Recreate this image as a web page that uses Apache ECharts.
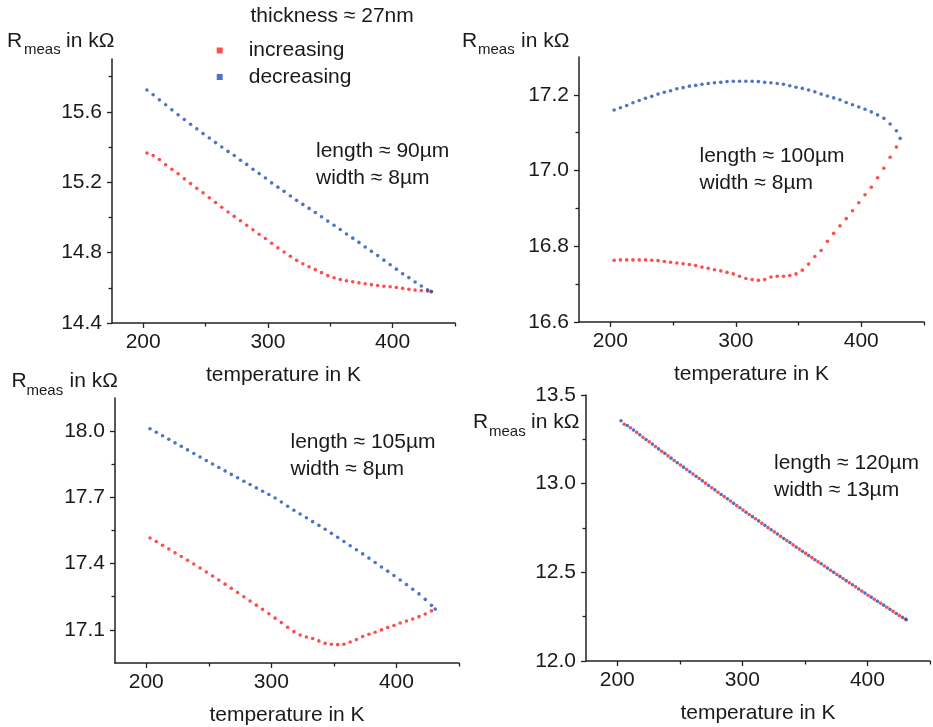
<!DOCTYPE html>
<html>
<head>
<meta charset="utf-8">
<script src="https://cdn.jsdelivr.net/npm/echarts@6/dist/echarts.min.js"></script>
<style>
html,body{margin:0;padding:0;background:#fff;}
#chart{width:933px;height:727px;}
</style>
</head>
<body>
<div id="chart"></div>
<script>
// ---------------- data ----------------
const temps = [203,208,213,218,223,228,233,238,243,248,253,258,263,268,273,278,283,288,293,298,303,308,313,318,323,328,333,338,343,348,353,358,363,368,373,378,383,388,393,398,403,408,413,418,423,428,431];
const tempsP4Inc = [205.5,210.5,215.5,220.5,225.5,230.5,235.5,240.5,245.5,250.5,255.5,260.5,265.5,270.5,275.5,280.5,285.5,290.5,295.5,300.5,305.5,310.5,315.5,320.5,325.5,330.5,335.5,340.5,345.5,350.5,355.5,360.5,365.5,370.5,375.5,380.5,385.5,390.5,395.5,400.5,405.5,410.5,415.5,420.5,425.5,430.5];

const p1Inc = [15.366,15.352,15.329,15.299,15.274,15.248,15.219,15.192,15.166,15.140,15.112,15.085,15.058,15.031,15.006,14.981,14.955,14.930,14.904,14.880,14.853,14.827,14.803,14.779,14.756,14.737,14.719,14.703,14.686,14.669,14.657,14.647,14.640,14.634,14.628,14.623,14.618,14.613,14.609,14.606,14.602,14.597,14.592,14.587,14.584,14.582,14.580];
const p1Dec = [15.724,15.697,15.668,15.640,15.611,15.583,15.556,15.529,15.503,15.476,15.451,15.425,15.400,15.375,15.352,15.325,15.301,15.274,15.249,15.224,15.196,15.172,15.148,15.122,15.097,15.074,15.051,15.028,15.004,14.979,14.955,14.931,14.906,14.882,14.858,14.832,14.807,14.783,14.757,14.731,14.706,14.680,14.658,14.633,14.610,14.588,14.577];

const p2Inc = [16.763,16.764,16.764,16.764,16.764,16.764,16.763,16.762,16.760,16.758,16.756,16.754,16.752,16.749,16.745,16.742,16.738,16.735,16.731,16.727,16.721,16.715,16.712,16.710,16.712,16.719,16.721,16.721,16.723,16.727,16.737,16.753,16.773,16.789,16.813,16.834,16.854,16.873,16.894,16.915,16.936,16.956,16.981,17.006,17.035,17.062,null];
const p2Dec = [17.160,17.166,17.172,17.179,17.185,17.191,17.196,17.202,17.207,17.211,17.216,17.219,17.223,17.225,17.228,17.230,17.232,17.233,17.235,17.236,17.236,17.236,17.236,17.235,17.233,17.232,17.230,17.228,17.224,17.220,17.217,17.213,17.208,17.202,17.197,17.192,17.187,17.180,17.174,17.168,17.162,17.155,17.147,17.138,17.123,17.105,17.085];

const p3Inc = [17.516,17.500,17.483,17.466,17.449,17.432,17.415,17.398,17.380,17.362,17.344,17.326,17.307,17.288,17.269,17.250,17.231,17.212,17.193,17.173,17.153,17.133,17.112,17.092,17.077,17.068,17.061,17.050,17.039,17.035,17.033,17.035,17.045,17.056,17.070,17.080,17.089,17.100,17.111,17.120,17.131,17.140,17.149,17.160,17.172,17.186,null];
const p3Dec = [18.011,17.995,17.979,17.963,17.947,17.931,17.915,17.899,17.883,17.867,17.851,17.835,17.820,17.804,17.789,17.773,17.758,17.743,17.728,17.713,17.697,17.679,17.660,17.642,17.625,17.608,17.590,17.573,17.556,17.537,17.519,17.500,17.481,17.463,17.444,17.425,17.405,17.385,17.366,17.346,17.326,17.305,17.284,17.263,17.238,17.211,17.194];

const p4Inc = [13.335,13.315,13.289,13.262,13.236,13.209,13.183,13.157,13.131,13.105,13.080,13.054,13.029,13.003,12.977,12.952,12.927,12.902,12.876,12.851,12.826,12.802,12.777,12.752,12.728,12.703,12.679,12.655,12.631,12.607,12.583,12.559,12.536,12.512,12.488,12.465,12.441,12.418,12.394,12.371,12.348,12.326,12.303,12.280,12.257,12.236];
const p4Dec = [13.355,13.328,13.302,13.276,13.249,13.223,13.196,13.171,13.144,13.118,13.093,13.067,13.042,13.016,12.990,12.965,12.939,12.915,12.889,12.864,12.839,12.814,12.790,12.765,12.740,12.716,12.691,12.668,12.643,12.619,12.595,12.571,12.548,12.524,12.500,12.477,12.453,12.430,12.406,12.383,12.360,12.337,12.315,12.292,12.268,12.246,12.233];

const xMajorTicks = [200, 300, 400];
const xMinorTicks = [250, 350, 450];
const p1YMajor = [14.4, 14.8, 15.2, 15.6];
const p1YMinor = [14.6, 15.0, 15.4, 15.8];
const p2YMajor = [16.6, 16.8, 17.0, 17.2];
const p2YMinor = [16.7, 16.9, 17.1];
const p3YMajor = [17.1, 17.4, 17.7, 18.0];
const p3YMinor = [17.25, 17.55, 17.85];
const p4YMajor = [12.0, 12.5, 13.0, 13.5];
const p4YMinor = [12.25, 12.75, 13.25];

const seriesNames = ['increasing', 'decreasing'];
const sampleLabels = [
  ['length \u2248 90\u00b5m', 'width \u2248 8\u00b5m'],
  ['length \u2248 100\u00b5m', 'width \u2248 8\u00b5m'],
  ['length \u2248 105\u00b5m', 'width \u2248 8\u00b5m'],
  ['length \u2248 120\u00b5m', 'width \u2248 13\u00b5m']
];
const thicknessLabel = 'thickness \u2248 27nm';
const xTitle = 'temperature in K';

// ---------------- layout / style ----------------
const FONT = '"Liberation Sans", Arial, Helvetica, sans-serif';
const RED = '#ff2020';
const BLUE = '#2350b8';
const AXIS = '#222222';
const TXT = '#1a1a1a';

const gridRects = [
  {left: 112, top: 59, width: 343, height: 264},
  {left: 579, top: 57, width: 345, height: 265},
  {left: 115, top: 398, width: 344, height: 265},
  {left: 586, top: 395, width: 344, height: 266}
];
const yRanges = [[14.4, 15.9], [16.6, 17.3], [16.95, 18.15], [12.0, 13.5]];
const yMajors = [p1YMajor, p2YMajor, p3YMajor, p4YMajor];
const yMinors = [p1YMinor, p2YMinor, p3YMinor, p4YMinor];
const incSets = [[temps, p1Inc], [temps, p2Inc], [temps, p3Inc], [tempsP4Inc, p4Inc]];
const decSets = [[temps, p1Dec], [temps, p2Dec], [temps, p3Dec], [temps, p4Dec]];

function pairs(xs, ys) {
  const out = [];
  for (let i = 0; i < ys.length; i++) if (ys[i] !== null) out.push([xs[i], ys[i]]);
  return out;
}

const grid = [], xAxis = [], yAxis = [], series = [];
for (let i = 0; i < 4; i++) grid.push(Object.assign({}, gridRects[i]));
for (let i = 0; i < 4; i++) grid.push(Object.assign({}, gridRects[i]));

for (let i = 0; i < 4; i++) {
  xAxis.push({
    gridIndex: i, type: 'value', min: 175, max: 450, interval: 25,
    axisLine: {show: true, onZero: false, lineStyle: {color: AXIS, width: 1.5}},
    axisTick: {show: true, length: 5, customValues: xMajorTicks, lineStyle: {color: AXIS, width: 1.3}},
    axisLabel: {customValues: xMajorTicks, fontSize: 21, fontFamily: FONT, color: TXT, margin: 9,
      formatter: v => String(Math.round(v))},
    splitLine: {show: false},
    name: xTitle, nameLocation: 'middle', nameGap: 42,
    nameTextStyle: {fontSize: 21, fontFamily: FONT, color: TXT}
  });
  yAxis.push({
    gridIndex: i, type: 'value', min: yRanges[i][0], max: yRanges[i][1],
    axisLine: {show: true, onZero: false, lineStyle: {color: AXIS, width: 1.5}},
    axisTick: {show: true, length: 5, customValues: yMajors[i], lineStyle: {color: AXIS, width: 1.3}},
    axisLabel: {customValues: yMajors[i], fontSize: 21, fontFamily: FONT, color: TXT, margin: 10,
      formatter: v => Number(v).toFixed(1)},
    splitLine: {show: false}
  });
}
for (let i = 0; i < 4; i++) {
  xAxis.push({
    gridIndex: i + 4, type: 'value', min: 175, max: 450, interval: 25,
    axisLine: {show: false},
    axisTick: {show: true, length: 3.5, customValues: xMinorTicks, lineStyle: {color: AXIS, width: 1.3}},
    axisLabel: {show: false}, splitLine: {show: false}
  });
  yAxis.push({
    gridIndex: i + 4, type: 'value', min: yRanges[i][0], max: yRanges[i][1],
    axisLine: {show: false},
    axisTick: {show: true, length: 3.5, customValues: yMinors[i], lineStyle: {color: AXIS, width: 1.3}},
    axisLabel: {show: false}, splitLine: {show: false}
  });
}

for (let i = 0; i < 4; i++) {
  series.push({
    name: seriesNames[0], type: 'scatter', xAxisIndex: i, yAxisIndex: i,
    symbol: 'circle', symbolSize: 3.6, itemStyle: {color: RED},
    data: pairs(incSets[i][0], incSets[i][1]), silent: true
  });
  series.push({
    name: seriesNames[1], type: 'scatter', xAxisIndex: i, yAxisIndex: i,
    symbol: 'circle', symbolSize: 3.6, itemStyle: {color: BLUE},
    data: pairs(decSets[i][0], decSets[i][1]), silent: true
  });
}

function txt(x, y, s, size) {
  return {
    type: 'text', x: x, y: y, silent: true,
    style: {text: s, font: 'normal ' + size + 'px ' + FONT, fill: TXT,
      align: 'left', verticalAlign: 'middle', textAlign: 'left', textVerticalAlign: 'middle'}
  };
}
const graphics = [];
graphics.push(txt(250.5, 16, thicknessLabel, 21));
const annPos = [[316, 151, 178], [699.5, 156, 183], [290.5, 442, 469], [774, 463.5, 490]];
for (let i = 0; i < 4; i++) {
  graphics.push(txt(annPos[i][0], annPos[i][1], sampleLabels[i][0], 21));
  graphics.push(txt(annPos[i][0], annPos[i][2], sampleLabels[i][1], 21));
}
const rPos = [[7, 41, 24, 50, 66], [462, 41, 478, 50, 521], [11.5, 381, 26.5, 390.5, 69.5], [473, 422.5, 489, 431.5, 531]];
for (let i = 0; i < 4; i++) {
  const p = rPos[i];
  graphics.push(txt(p[0], p[1], 'R', 21));
  graphics.push(txt(p[2], p[3], 'meas', 15));
  graphics.push(txt(p[4], p[1], 'in k\u03a9', 21));
}

const option = {
  backgroundColor: '#ffffff',
  animation: false,
  grid: grid,
  xAxis: xAxis,
  yAxis: yAxis,
  legend: {
    data: seriesNames, orient: 'vertical', left: 211.7, top: 34.5,
    itemWidth: 6, itemHeight: 6, itemGap: 4.5, icon: 'rect', selectedMode: false,
    textStyle: {fontSize: 21, lineHeight: 22, fontFamily: FONT, color: TXT, padding: [0, 0, 0, 21]}
  },
  graphic: graphics,
  series: series
};

const chart = echarts.init(document.getElementById('chart'), null, {renderer: 'canvas'});
chart.setOption(option);
</script>
</body>
</html>
